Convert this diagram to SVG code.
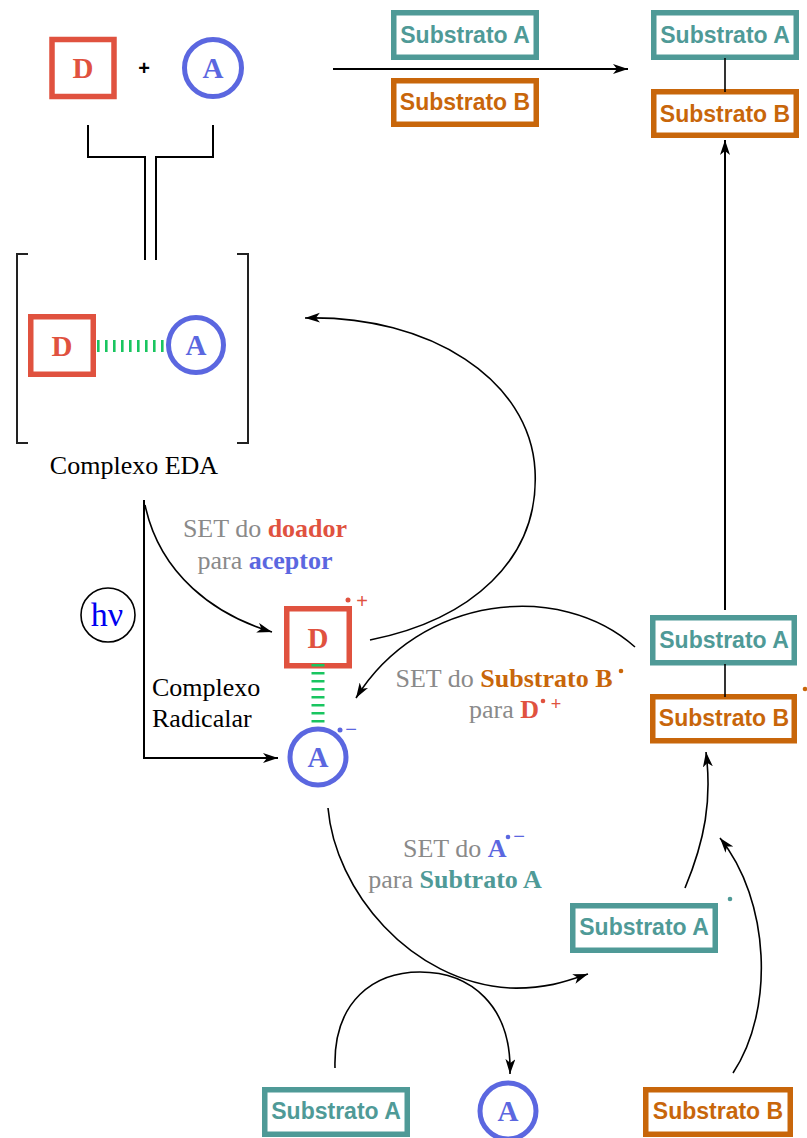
<svg xmlns="http://www.w3.org/2000/svg" width="807" height="1138" viewBox="0 0 807 1138">
<defs>
<style>
.red{stroke:#E0523F;fill:none;stroke-width:5.5}
.blue{stroke:#5B67E0;fill:none;stroke-width:5}
.teal{stroke:#4F9A97;fill:#fff;stroke-width:5.5}
.org{stroke:#C8660A;fill:#fff;stroke-width:5.5}
.ln{stroke:#000;fill:none;stroke-width:1.6}
.ln2{stroke:#000;fill:none;stroke-width:2}
.br{stroke:#222;fill:none;stroke-width:2}
.lt{font-family:"Liberation Serif","Times New Roman",serif;font-size:26px;text-anchor:middle}
.big{font-family:"Liberation Serif","Times New Roman",serif;font-weight:bold;font-size:29px;text-anchor:middle}
.sub{font-family:"Liberation Sans",Arial,sans-serif;font-weight:bold;font-size:23px;text-anchor:middle}
.g{fill:#8A8A8A}
.b{font-weight:bold}
.tickh{stroke:#19C560;stroke-width:12;stroke-dasharray:2.6 5.4;fill:none}
.tickv{stroke:#19C560;stroke-width:13;stroke-dasharray:2.6 5.4;fill:none}
</style>
<marker id="ah" markerUnits="userSpaceOnUse" markerWidth="16" markerHeight="12" refX="15" refY="5" orient="auto">
<path d="M0,0 L15,5 L0,10 L4,5 Z" fill="#000"/>
</marker>
</defs>

<g id="D-top">
<rect x="52" y="39.5" width="62" height="57" class="red"/>
<text x="83" y="78" class="big" fill="#E0523F">D</text>
</g>
<g id="plus-top"><text x="144" y="75" font-family="Liberation Sans,Arial,sans-serif" font-weight="bold" font-size="20" text-anchor="middle">+</text></g>
<g id="A-top">
<circle cx="213" cy="68" r="28.5" class="blue"/>
<text x="213" y="78" class="big" fill="#5B67E0">A</text>
</g>

<g id="SubA-top"><rect x="393.75" y="12.75" width="142.5" height="44.5" class="teal"/><text x="465" y="43" class="sub" fill="#4F9A97">Substrato A</text></g>
<g id="SubB-top"><rect x="393.75" y="80.75" width="142.5" height="43.5" class="org"/><text x="465" y="110" class="sub" fill="#C8660A">Substrato B</text></g>

<g id="SubA-product"><rect x="653.75" y="12.75" width="142.5" height="44.5" class="teal"/><text x="725" y="43" class="sub" fill="#4F9A97">Substrato A</text></g>
<g id="SubB-product"><rect x="653.75" y="91.75" width="142.5" height="43.5" class="org"/><text x="725" y="122" class="sub" fill="#C8660A">Substrato B</text></g>

<g id="EDA-complex">
<path d="M28,254 H17 V443 H28" class="br"/>
<path d="M237,254 H248 V443 H237" class="br"/>
<rect x="30.75" y="316.75" width="62.5" height="57.5" class="red"/>
<text x="62" y="356" class="big" fill="#E0523F">D</text>
<line x1="97" y1="346" x2="164" y2="346" class="tickh"/>
<circle cx="196" cy="345" r="27.5" class="blue"/>
<text x="196" y="355" class="big" fill="#5B67E0">A</text>
<text x="134" y="474" class="lt" fill="#000">Complexo EDA</text>
</g>

<g id="hv"><circle cx="108" cy="615" r="27" fill="none" stroke="#000" stroke-width="1.6"/><text x="107" y="626" font-family="Liberation Serif,'Times New Roman',serif" font-size="34" text-anchor="middle" fill="#0000F0">hν</text></g>

<g id="radical-complex">
<rect x="286.75" y="608.75" width="62.5" height="57" class="red"/>
<text x="318" y="648" class="big" fill="#E0523F">D</text>
<circle cx="348" cy="600" r="2.5" fill="#E0523F"/>
<text x="362" y="608" font-family="Liberation Sans,Arial,sans-serif" font-size="20" text-anchor="middle" fill="#E0523F">+</text>
<line x1="318" y1="664" x2="318" y2="730" class="tickv"/>
<circle cx="318" cy="757" r="28" class="blue"/>
<text x="318" y="767" class="big" fill="#5B67E0">A</text>
<circle cx="340" cy="730" r="2.5" fill="#5B67E0"/>
<text x="351" y="736" font-family="Liberation Sans,Arial,sans-serif" font-size="20" text-anchor="middle" fill="#5B67E0">−</text>
<text x="152" y="696" font-family="Liberation Serif,'Times New Roman',serif" font-size="26" fill="#000">Complexo</text>
<text x="152" y="727" font-family="Liberation Serif,'Times New Roman',serif" font-size="26" fill="#000">Radicalar</text>
</g>

<g id="label-SET1">
<text x="265" y="537" class="lt"><tspan class="g">SET do </tspan><tspan class="b" fill="#E0523F">doador</tspan></text>
<text x="265" y="569" class="lt"><tspan class="g">para </tspan><tspan class="b" fill="#5B67E0">aceptor</tspan></text>
</g>
<g id="label-SET2">
<text x="504" y="687" class="lt"><tspan class="g">SET do </tspan><tspan class="b" fill="#C8660A">Substrato B</tspan></text>
<circle cx="621" cy="671" r="2.3" fill="#C8660A"/>
<text x="469" y="718" font-family="Liberation Serif,'Times New Roman',serif" font-size="26"><tspan class="g">para </tspan><tspan class="b" fill="#E0523F">D</tspan></text>
<circle cx="543" cy="701" r="2.3" fill="#E0523F"/>
<text x="556" y="710" font-family="Liberation Sans,Arial,sans-serif" font-size="18" text-anchor="middle" fill="#E0523F">+</text>
</g>
<g id="label-SET3">
<text x="403" y="857" font-family="Liberation Serif,'Times New Roman',serif" font-size="26"><tspan class="g">SET do </tspan><tspan class="b" fill="#5B67E0">A</tspan></text>
<circle cx="508" cy="837" r="2.3" fill="#5B67E0"/>
<text x="519" y="843" font-family="Liberation Sans,Arial,sans-serif" font-size="20" text-anchor="middle" fill="#5B67E0">−</text>
<text x="455" y="888" class="lt"><tspan class="g">para </tspan><tspan class="b" fill="#4F9A97">Subtrato A</tspan></text>
</g>

<g id="SubA-mid"><rect x="652.75" y="617.75" width="141.5" height="45" class="teal"/><text x="724" y="648" class="sub" fill="#4F9A97">Substrato A</text></g>
<g id="SubB-mid"><rect x="652.75" y="696.75" width="141.5" height="44" class="org"/><text x="724" y="726" class="sub" fill="#C8660A">Substrato B</text></g>
<circle cx="805" cy="689" r="2.3" fill="#C8660A"/>

<g id="SubA-radical"><rect x="572.75" y="905.75" width="142.5" height="44.5" class="teal"/><text x="644" y="935" class="sub" fill="#4F9A97">Substrato A</text></g>
<circle cx="730" cy="899" r="2.3" fill="#4F9A97"/>

<g id="SubA-bottom"><rect x="264.75" y="1089.75" width="142.5" height="44.5" class="teal"/><text x="336" y="1119" class="sub" fill="#4F9A97">Substrato A</text></g>
<g id="A-bottom"><circle cx="508" cy="1111" r="28" class="blue"/><text x="508" y="1121" class="big" fill="#5B67E0">A</text></g>
<g id="SubB-bottom"><rect x="645.75" y="1089.75" width="144.5" height="44.5" class="org"/><text x="718" y="1119" class="sub" fill="#C8660A">Substrato B</text></g>

<g id="connectors">
<path d="M88,125 V157 H145 V260" class="ln2"/>
<path d="M213,125 V157 H156 V260" class="ln2"/>
<line x1="333" y1="69" x2="628" y2="69" class="ln2" marker-end="url(#ah)"/>
<line x1="725" y1="58" x2="725" y2="92" class="ln"/>
<line x1="725" y1="610" x2="725" y2="140" class="ln2" marker-end="url(#ah)"/>
<line x1="725" y1="664" x2="725" y2="697" class="ln"/>
<path d="M144,500 V758 H278" class="ln2" marker-end="url(#ah)"/>
<path d="M145,505 C160,575 215,615 272,632" class="ln" marker-end="url(#ah)"/>
<path d="M370,640 C470,620 540,560 535,470 C530,380 430,315 305,318" class="ln" marker-end="url(#ah)"/>
<path d="M635,647 C560,580 420,595 356,698" class="ln" marker-end="url(#ah)"/>
<path d="M328,808 C335,890 410,982 510,988 C545,989 565,982 588,974" class="ln" marker-end="url(#ah)"/>
<path d="M335,1068 C333,1000 375,972 420,972 C470,972 512,1005 510,1074" class="ln" marker-end="url(#ah)"/>
<path d="M685,888 C705,840 712,800 706,752" class="ln" marker-end="url(#ah)"/>
<path d="M733,1073 C775,1010 770,900 720,838" class="ln" marker-end="url(#ah)"/>
</g>
</svg>
